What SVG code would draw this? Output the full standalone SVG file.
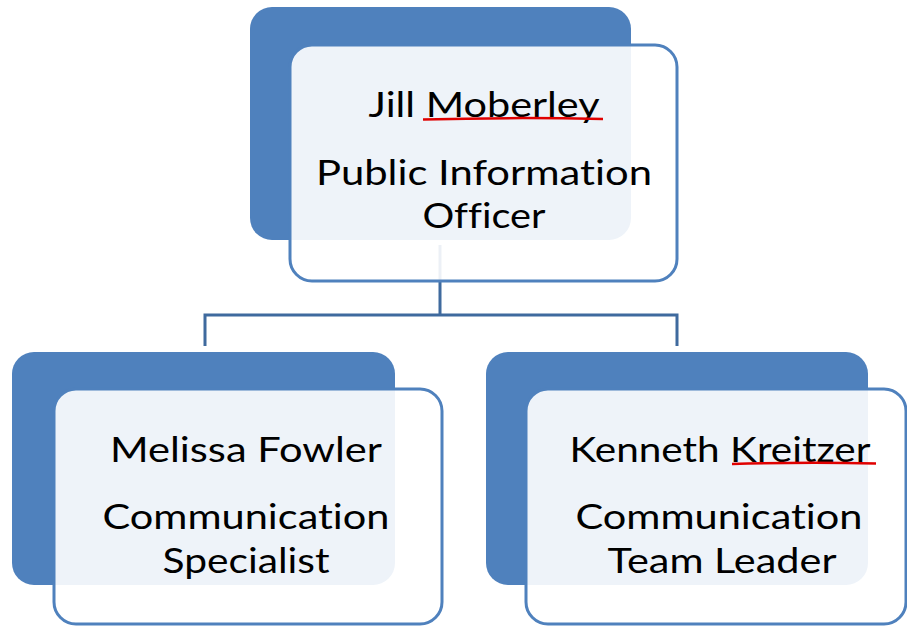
<svg xmlns="http://www.w3.org/2000/svg" width="907" height="627" viewBox="0 0 907 627">
<style>
.back{fill:#4F81BD;}
.front{fill:#FFFFFF;fill-opacity:0.9;stroke:#4F81BD;stroke-width:3;}
.conn{fill:none;stroke:#3F6A9E;stroke-width:3;}
.t{font-family:Lato,"Open Sans","Liberation Sans",sans-serif;font-size:34px;fill:#000;text-anchor:middle;font-variant-ligatures:none;font-feature-settings:"liga" 0,"clig" 0;}
.sp{fill:none;stroke:#E00000;stroke-width:2.5;}
</style>
<rect width="907" height="627" fill="#FFFFFF"/>
<g id="connectors">
<path class="conn" d="M440,245 V315 M205,315 H677 M205,313.5 V346 M677,313.5 V346"/>
</g>
<g id="node-jill">
<rect class="back" x="250" y="7" width="381" height="233" rx="22"/>
<rect class="front" x="290" y="45" width="387" height="236" rx="22"/>
<text class="t" x="484" y="117" textLength="231" lengthAdjust="spacingAndGlyphs">Jill Moberley</text>
<text class="t" x="484" y="185" textLength="336" lengthAdjust="spacingAndGlyphs">Public Information</text>
<text class="t" x="484" y="228" textLength="123" lengthAdjust="spacingAndGlyphs">Officer</text>
<path class="sp" d="M423,119.5 Q513,117 603,119"/>
</g>
<g id="node-melissa">
<rect class="back" x="12" y="352" width="383" height="233" rx="22"/>
<rect class="front" x="54" y="389" width="388" height="235" rx="22"/>
<text class="t" x="246" y="462" textLength="272" lengthAdjust="spacingAndGlyphs">Melissa Fowler</text>
<text class="t" x="246" y="529" textLength="287" lengthAdjust="spacingAndGlyphs">Communication</text>
<text class="t" x="246" y="573" textLength="167" lengthAdjust="spacingAndGlyphs">Specialist</text>
</g>
<g id="node-kenneth">
<rect class="back" x="486" y="352" width="382" height="233" rx="22"/>
<rect class="front" x="526" y="389" width="380" height="235" rx="22"/>
<text class="t" x="720" y="462" textLength="301" lengthAdjust="spacingAndGlyphs">Kenneth Kreitzer</text>
<text class="t" x="719" y="529" textLength="287" lengthAdjust="spacingAndGlyphs">Communication</text>
<text class="t" x="722" y="573" textLength="229" lengthAdjust="spacingAndGlyphs">Team Leader</text>
<path class="sp" d="M732,464 Q804,462 876,463.5"/>
</g>
</svg>
